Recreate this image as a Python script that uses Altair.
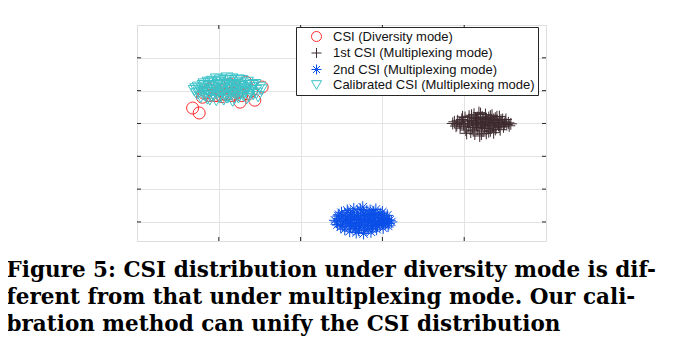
import altair as alt
import pandas as pd

# ---------------- data ----------------
series_names = [
    "CSI (Diversity mode)",
    "1st CSI (Multiplexing mode)",
    "2nd CSI (Multiplexing mode)",
    "Calibrated CSI (Multiplexing mode)",
]
series_colors = ["#ff2b2b", "#3d2a2f", "#0a4fe8", "#3cc3c8"]
PLUS = "M-1,0L1,0M0,-1L0,1"
STAR = "M-1,0L1,0M0,-1L0,1M-0.7,-0.7L0.7,0.7M-0.7,0.7L0.7,-0.7"
series_shapes = ["circle", PLUS, STAR, "triangle-down"]

red_x = [0.76, 0.68, 1.33, 1.53, 1.44, 1.26, 0.89, 0.80, 0.85, 0.92, 0.98, 1.02, 1.06, 1.10, 1.12,
         1.16, 1.20, 1.24, 1.28, 1.30, 1.36, 1.40, 0.95, 1.04, 0.88, 1.14, 1.22, 1.18, 0.82, 1.08]
red_y = [4.32, 4.47, 5.26, 5.11, 4.71, 4.65, 4.85, 4.80, 4.95, 5.10, 4.85, 5.00, 4.90, 5.15, 4.90,
         4.85, 5.05, 4.95, 4.85, 5.10, 4.90, 5.00, 4.85, 4.82, 5.05, 5.20, 4.95, 4.90, 4.92, 4.88]

brown_x = [3.86, 3.90, 3.92, 3.95, 3.97, 3.99, 4.01, 4.02, 4.04, 4.05, 4.06, 4.08, 4.09, 4.10, 4.11,
           4.12, 4.13, 4.14, 4.15, 4.16, 4.17, 4.18, 4.19, 4.20, 4.21, 4.22, 4.23, 4.24, 4.25, 4.26,
           4.27, 4.28, 4.29, 4.30, 4.31, 4.32, 4.33, 4.34, 4.35, 4.36, 4.37, 4.38, 4.39, 4.40, 4.42,
           4.43, 4.44, 4.46, 4.47, 4.48, 4.50, 4.52, 4.54, 4.57, 4.07, 4.14, 4.22, 4.29, 3.94, 4.41,
           3.88, 3.91, 3.96, 3.98, 4.00, 4.03, 4.06, 4.09, 4.11, 4.13, 4.16, 4.18, 4.20, 4.21, 4.23,
           4.25, 4.27, 4.30, 4.32, 4.34, 4.36, 4.38, 4.40, 4.43, 4.45, 4.49, 4.51, 4.55, 4.15, 4.26]
brown_y = [4.00, 3.92, 4.08, 3.86, 4.12, 3.98, 4.18, 3.80, 4.05, 3.93, 4.22, 3.74, 4.10, 3.88, 4.01,
           4.28, 3.68, 4.15, 3.95, 3.83, 4.08, 4.33, 3.62, 4.02, 3.90, 4.20, 3.77, 4.12, 3.96, 4.27,
           3.70, 4.05, 3.85, 4.18, 3.99, 3.78, 4.10, 4.25, 3.92, 3.72, 4.03, 4.16, 3.87, 4.08, 3.95,
           4.21, 3.81, 4.02, 4.12, 3.90, 4.05, 3.97, 4.02, 3.99, 3.99, 4.04, 3.98, 3.94, 4.02, 3.99,
           4.05, 3.96, 4.00, 4.20, 3.90, 3.70, 4.08, 4.25, 3.78, 3.98, 4.18, 3.88, 4.30, 3.68, 4.05,
           3.85, 4.15, 3.75, 4.22, 3.95, 4.12, 3.82, 4.20, 3.90, 4.10, 3.98, 4.12, 3.93, 4.10, 4.00]

blue_x = [2.42, 2.45, 2.46, 2.49, 2.50, 2.52, 2.54, 2.55, 2.57, 2.58, 2.60, 2.61, 2.62, 2.64, 2.65,
          2.66, 2.68, 2.69, 2.70, 2.71, 2.72, 2.74, 2.75, 2.76, 2.77, 2.78, 2.79, 2.80, 2.81, 2.82,
          2.84, 2.85, 2.86, 2.87, 2.88, 2.90, 2.91, 2.92, 2.93, 2.95, 2.96, 2.97, 2.99, 3.00, 3.01,
          3.03, 3.04, 3.06, 3.07, 3.09, 3.11, 2.56, 2.63, 2.73, 2.83, 2.94, 2.67, 2.89, 3.02, 2.48,
          2.44, 2.47, 2.51, 2.53, 2.59, 2.61, 2.64, 2.66, 2.69, 2.71, 2.73, 2.75, 2.78, 2.80, 2.82,
          2.85, 2.87, 2.89, 2.91, 2.94, 2.96, 2.98, 3.00, 3.02, 3.05, 3.08, 2.58, 2.68, 2.77, 2.86,
          2.92, 2.62]
blue_y = [1.05, 0.92, 1.18, 0.85, 1.28, 1.00, 0.78, 1.12, 1.35, 0.95, 0.72, 1.22, 1.05, 0.88, 1.40,
          1.15, 0.68, 0.98, 1.30, 1.08, 0.82, 1.20, 0.93, 1.45, 0.65, 1.10, 1.02, 0.76, 1.33, 0.90,
          1.18, 1.00, 0.70, 1.25, 0.86, 1.12, 0.97, 1.38, 0.78, 1.05, 1.22, 0.90, 1.00, 1.30, 0.82,
          1.10, 0.95, 1.20, 0.88, 1.05, 1.00, 1.02, 1.10, 0.98, 1.06, 1.00, 0.80, 1.28, 1.15, 1.10,
          1.00, 1.22, 0.90, 1.18, 1.05, 0.85, 1.28, 0.95, 1.18, 0.75, 1.38, 1.05, 0.85, 1.22, 1.00,
          1.35, 0.80, 1.05, 1.20, 0.88, 1.10, 1.25, 0.95, 1.02, 1.08, 0.95, 1.30, 1.08, 1.25, 1.12,
          0.92, 0.98]

cyan_x = [0.70, 0.73, 0.75, 0.78, 0.80, 0.82, 0.84, 0.86, 0.88, 0.90, 0.92, 0.94, 0.96, 0.97, 0.99,
          1.00, 1.02, 1.03, 1.05, 1.06, 1.08, 1.09, 1.11, 1.12, 1.14, 1.15, 1.17, 1.18, 1.20, 1.21,
          1.23, 1.24, 1.26, 1.27, 1.29, 1.30, 1.32, 1.34, 1.36, 1.38, 1.40, 1.42, 1.45, 1.48, 1.52,
          0.85, 0.95, 1.04, 1.13, 1.22, 1.33, 0.91, 1.19, 1.07, 0.79, 1.28, 1.44, 0.88, 1.16, 1.01,
          0.72, 0.76, 0.81, 0.83, 0.87, 0.89, 0.93, 0.98, 1.00, 1.04, 1.07, 1.10, 1.13, 1.16, 1.19,
          1.22, 1.25, 1.28, 1.31, 1.35, 1.37, 1.41, 1.46, 1.50, 0.97, 1.10, 1.24, 0.90]
cyan_y = [5.00, 4.90, 5.10, 4.80, 5.05, 5.20, 4.95, 4.75, 5.12, 5.00, 5.28, 4.85, 5.08, 4.70, 5.18,
          4.98, 5.32, 4.88, 5.05, 4.72, 5.22, 4.95, 5.10, 4.80, 5.30, 5.00, 4.68, 5.15, 4.90, 5.25,
          5.02, 4.78, 5.12, 4.92, 5.20, 4.85, 5.05, 4.75, 5.15, 4.95, 5.08, 4.88, 5.00, 4.82, 5.02,
          5.02, 5.15, 5.15, 5.05, 4.96, 4.98, 4.82, 4.75, 4.85, 4.95, 5.30, 5.18, 4.92, 5.35, 4.78,
          5.05, 4.95, 5.15, 4.85, 5.25, 4.72, 5.02, 4.92, 5.25, 4.95, 5.30, 4.78, 5.18, 4.88, 5.08,
          5.18, 4.85, 5.05, 4.95, 5.25, 4.82, 5.15, 4.92, 5.10, 5.35, 5.38, 5.32, 5.22]

x_ticks = [1, 2, 3, 4]
y_ticks = [1, 2, 3, 4, 5, 6]
x_domain = [0, 5]
y_domain = [0.42, 7]

caption = [
    "Figure 5: CSI distribution under diversity mode is dif-",
    "ferent from that under multiplexing mode. Our cali-",
    "bration method can unify the CSI distribution",
]

# ---------------- table ----------------
rows = []
for name, xs, ys in zip(series_names,
                        [red_x, brown_x, blue_x, cyan_x],
                        [red_y, brown_y, blue_y, cyan_y]):
    for a, b in zip(xs, ys):
        rows.append({"series": name, "x": a, "y": b})
df = pd.DataFrame(rows)
df_xt = pd.DataFrame({"t": x_ticks})
df_yt = pd.DataFrame({"t": y_ticks})

W, H = 409, 216
xscale = alt.Scale(domain=x_domain, nice=False, zero=False)
yscale = alt.Scale(domain=y_domain, nice=False, zero=False)

points = alt.Chart(df).mark_point(filled=False, strokeWidth=1, opacity=1, size=145).encode(
    x=alt.X("x:Q", scale=xscale,
            axis=alt.Axis(values=x_ticks, labels=False, ticks=False, domain=False, title=None,
                          grid=True, gridColor="#e3e3e3", gridWidth=1)),
    y=alt.Y("y:Q", scale=yscale,
            axis=alt.Axis(values=y_ticks, labels=False, ticks=False, domain=False, title=None,
                          grid=True, gridColor="#e3e3e3", gridWidth=1)),
    color=alt.Color("series:N", scale=alt.Scale(domain=series_names, range=series_colors),
                    legend=alt.Legend(
                        title=None, orient="none", legendX=159, legendY=2,
                        padding=3, symbolOffset=11, labelOffset=10,
                        rowPadding=1.5, symbolSize=100, symbolStrokeWidth=1,
                        labelFont="Liberation Sans", labelFontSize=13, labelColor="#111111",
                        labelExpr="datum.label + '\u00a0\u00a0\u00a0'",
                        strokeColor="#262626", fillColor="white", cornerRadius=0,
                        labelLimit=400)),
    shape=alt.Shape("series:N", scale=alt.Scale(domain=series_names, range=series_shapes)),
)

tick_color = "#262626"
xt_bottom = alt.Chart(df_xt).mark_rule(color=tick_color, strokeWidth=1).encode(
    x=alt.X("t:Q", scale=xscale), y=alt.value(H), y2=alt.value(H - 4))
xt_top = alt.Chart(df_xt).mark_rule(color=tick_color, strokeWidth=1).encode(
    x=alt.X("t:Q", scale=xscale), y=alt.value(0), y2=alt.value(4))
yt_left = alt.Chart(df_yt).mark_rule(color=tick_color, strokeWidth=1).encode(
    y=alt.Y("t:Q", scale=yscale), x=alt.value(0), x2=alt.value(4))
yt_right = alt.Chart(df_yt).mark_rule(color=tick_color, strokeWidth=1).encode(
    y=alt.Y("t:Q", scale=yscale), x=alt.value(W), x2=alt.value(W - 4))

chart = alt.layer(points, xt_bottom, xt_top, yt_left, yt_right).properties(
    width=W, height=H,
    autosize=alt.AutoSizeParams(type="none"),
    padding={"left": 129, "top": 17, "right": 120, "bottom": 112},
    title=alt.TitleParams(
        text=caption, orient="bottom", anchor="start", dx=-130, offset=18,
        font="DejaVu Serif", fontSize=21.5, fontWeight="bold", lineHeight=27,
        color="#000000"),
).configure_view(stroke="#262626", strokeWidth=1).configure(background="white")

chart.save("out.html", embed_options={"renderer": "svg", "actions": False})
